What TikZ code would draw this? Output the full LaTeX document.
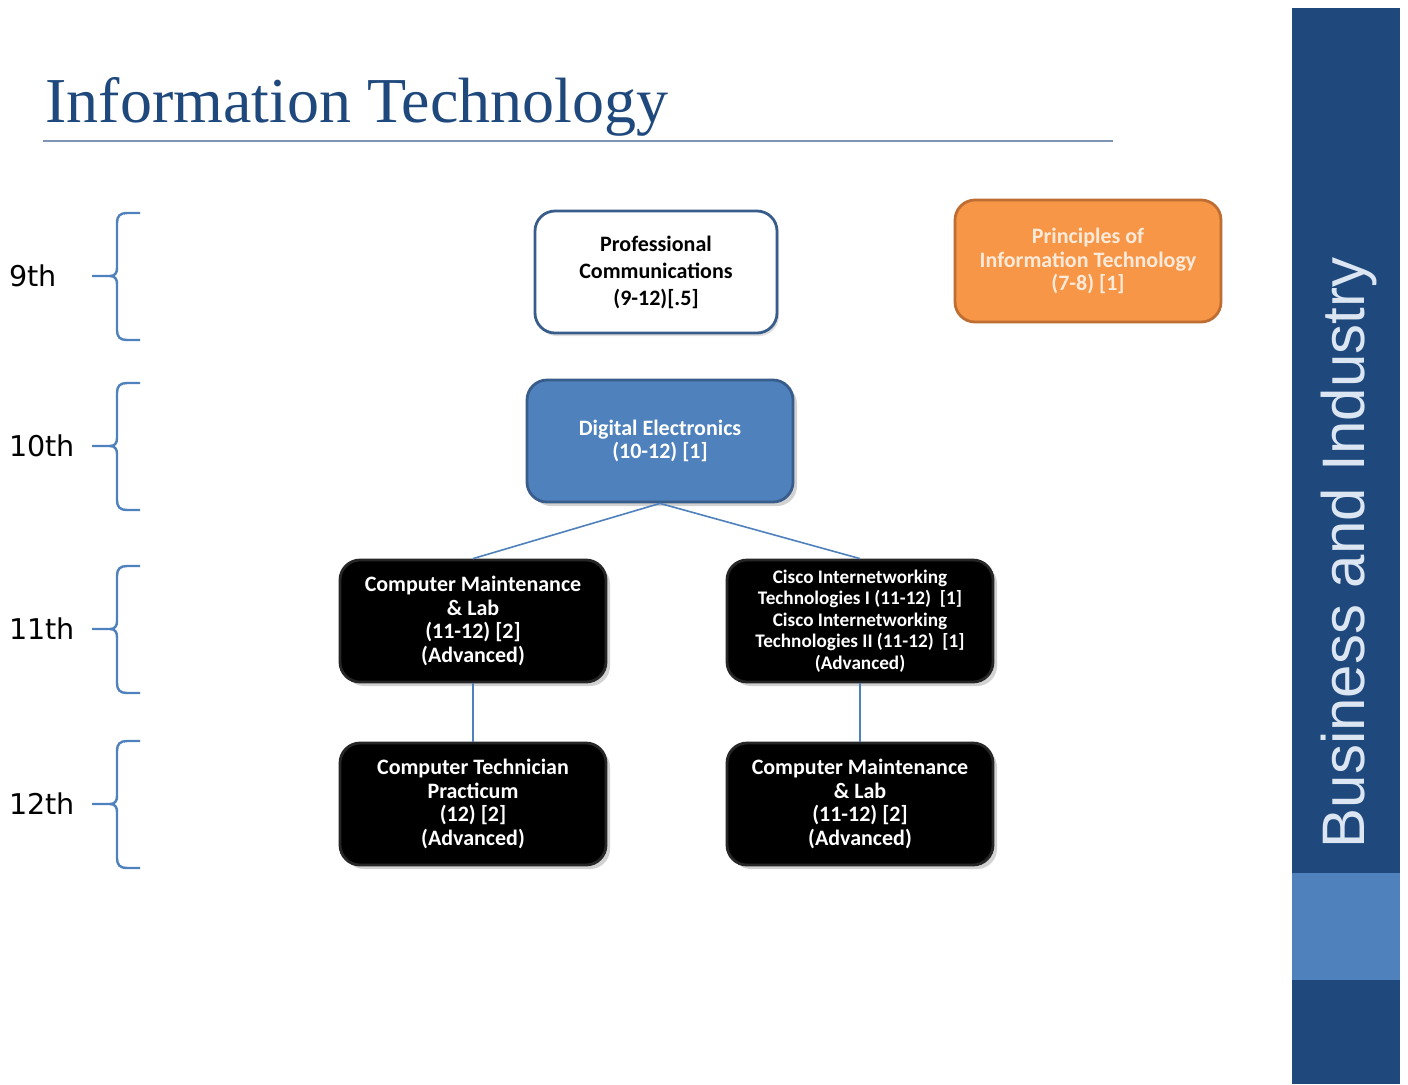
\documentclass[tikz,border=0pt]{standalone}
\usepackage{fontspec}
\setmainfont{Carlito}
\newfontfamily\titlefont{Liberation Serif}
\newfontfamily\gradefont{DejaVu Sans}
\newfontfamily\barfont{Liberation Sans}
\usetikzlibrary{shadows}

\definecolor{navy}{RGB}{31,73,125}
\definecolor{skyblue}{RGB}{79,129,189}
\definecolor{edgeblue}{RGB}{56,93,138}
\definecolor{paleblue}{RGB}{220,230,242}
\definecolor{rulegray}{RGB}{125,148,180}
\definecolor{orangefill}{RGB}{247,150,70}
\definecolor{orangeedge}{RGB}{190,110,50}
\definecolor{paleorange}{RGB}{253,234,218}

\begin{document}
\begin{tikzpicture}[x=0.5pt,y=-0.5pt,
    course/.style={rounded corners=10pt,minimum width=133pt,minimum height=61pt,
      align=center,line width=1.4pt,inner sep=2pt,
      font=\bfseries\fontsize{11}{11.8}\selectfont},
    blackcourse/.style={course,fill=black,draw=black!85,text=white,
      drop shadow={shadow xshift=2pt,shadow yshift=-2pt,opacity=0.35}},
    link/.style={skyblue,line width=0.8pt},
    bracket/.style={skyblue,line width=1.2pt},
    grade/.style={anchor=west,inner sep=0pt,font=\gradefont\fontsize{14.3}{16}\selectfont}]
    \useasboundingbox[fill=white] (0,0) rectangle (1408,1084);

    % title and rule
    \node[anchor=base west,inner sep=0pt,text=navy,
      font=\titlefont\fontsize{32}{35}\selectfont] (title) at (45,122) {Information Technology};
    \draw[rulegray,line width=0.8pt] (43,141) -- (1113,141);

    % side bar
    \fill[navy] (1292,8) rectangle (1400,1084);
    \fill[skyblue] (1292,873) rectangle (1400,980);
    \node[rotate=90,text=paleblue,inner sep=0pt,
      font=\barfont\fontsize{30}{32}\selectfont] (bar) at (1349,553) {Business and Industry};

    % grade rows
    \foreach \t/\g in {213/9th,383/10th,566/11th,741/12th}{
        \node[grade] (g\g) at (9,{\t+63}) {\g};
        \draw[bracket] (140,\t) -- (127,\t) .. controls (120,\t) and (117,{\t+3}) .. (117,{\t+10})
            -- (117,{\t+55}) .. controls (117,{\t+60}) and (115,{\t+63}) .. (110,{\t+63}) -- (92,{\t+63});
        \draw[bracket] (110,{\t+63}) .. controls (115,{\t+63}) and (117,{\t+66}) .. (117,{\t+71})
            -- (117,{\t+117}) .. controls (117,{\t+124}) and (120,{\t+127}) .. (127,{\t+127}) -- (140,{\t+127});
    }

    % courses
    \node[course,minimum width=121pt,draw=edgeblue,fill=white,
      drop shadow={shadow xshift=1pt,shadow yshift=-1.5pt,opacity=0.25},
      font=\bfseries\fontsize{11}{13.5}\selectfont] (prof) at (656,272)
      {Professional\\Communications\\(9-12)[.5]};
    \node[course,draw=orangeedge,fill=orangefill,text=paleorange] (prin) at (1088,261)
      {Principles of\\Information Technology\\(7-8) [1]};
    \node[course,draw=edgeblue,fill=skyblue,text=white,
      drop shadow={shadow xshift=2pt,shadow yshift=-2pt,opacity=0.35}] (dig) at (660,441)
      {Digital Electronics\\(10-12) [1]};
    \node[blackcourse] (cml) at (473,621)
      {Computer Maintenance\\\& Lab\\(11-12) [2]\\(Advanced)};
    \node[blackcourse,font=\bfseries\fontsize{9.6}{10.8}\selectfont] (cisco) at (860,621)
      {Cisco Internetworking\\Technologies I (11-12) \ [1]\\Cisco Internetworking\\Technologies II (11-12) \ [1]\\(Advanced)};
    \node[blackcourse] (tech) at (473,804)
      {Computer Technician\\Practicum\\(12) [2]\\(Advanced)};
    \node[blackcourse] (cml2) at (860,804)
      {Computer Maintenance\\\& Lab\\(11-12) [2]\\(Advanced)};

    % links
    \draw[link] (dig.south) -- (cml.north);
    \draw[link] (dig.south) -- (cisco.north);
    \draw[link] (cml.south) -- (tech.north);
    \draw[link] (cisco.south) -- (cml2.north);
\end{tikzpicture}
\end{document}
